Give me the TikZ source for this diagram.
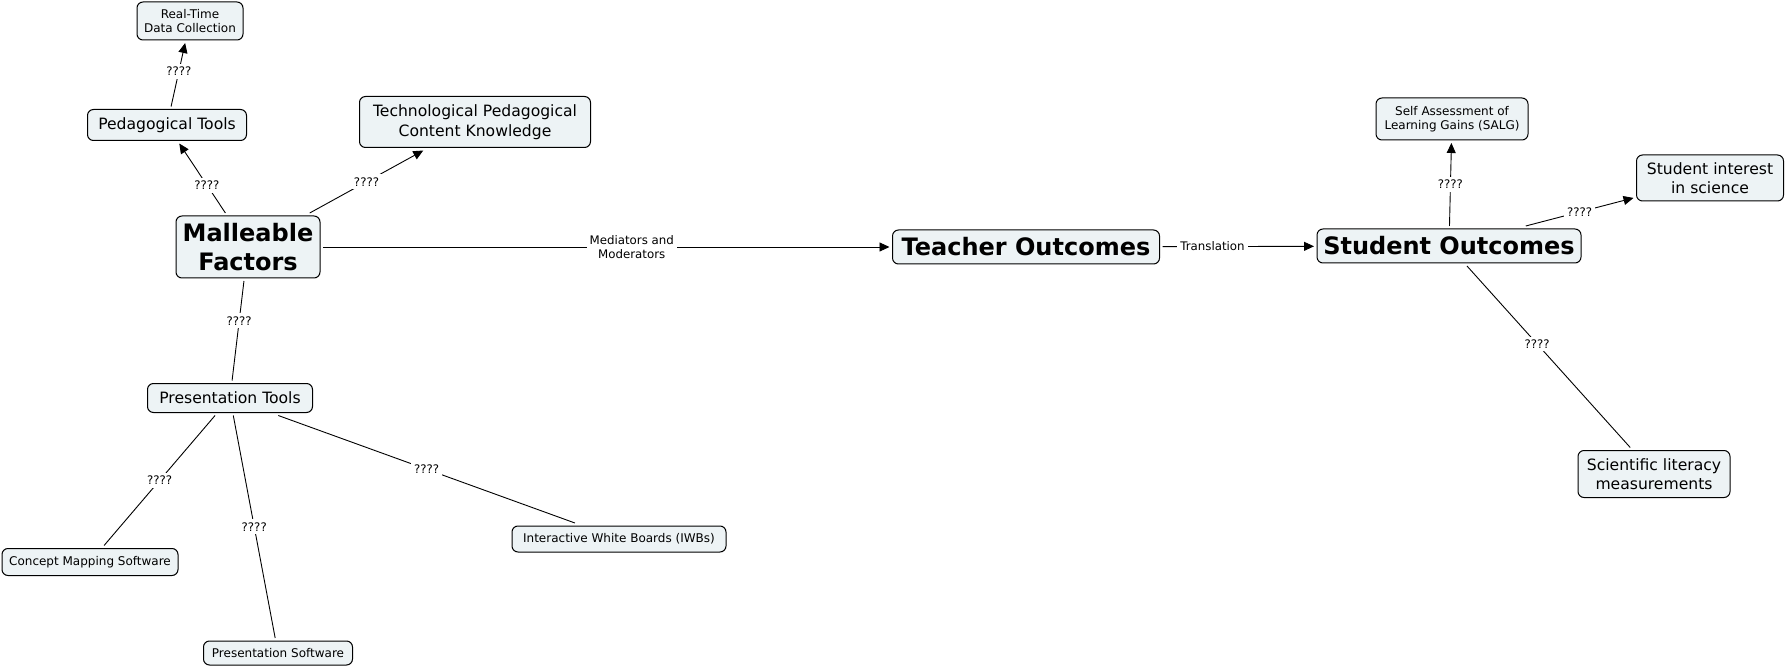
\documentclass[tikz,border=0pt]{standalone}
\usepackage{fontspec}
\setmainfont{DejaVu Sans}
\usetikzlibrary{arrows.meta}
\definecolor{cmapfill}{RGB}{237,243,245}

\begin{document}
\begin{tikzpicture}[
  x=1pt, y=-1pt,
  concept/.style={draw, fill=cmapfill, rounded corners=6pt, align=center, inner sep=0pt, outer sep=3pt, line width=1pt},
  bigbox/.style={concept, font=\fontsize{24}{29}\selectfont\bfseries},
  midbox/.style={concept, font=\fontsize{15.6}{19.5}\selectfont},
  smallbox/.style={concept, font=\fontsize{12}{14.5}\selectfont},
  linklabel/.style={fill=white, inner sep=3pt, font=\fontsize{11.8}{13.5}\selectfont},
  link/.style={line width=0.9pt},
  >={Triangle[length=10pt,width=9pt]}
]
\useasboundingbox (0,0) rectangle (1785,668);

\node[smallbox, minimum width=106pt, minimum height=38pt] (realtime) at (190,21) {Real-Time\\Data Collection};
\node[midbox, minimum width=159pt, minimum height=31pt] (pedtools) at (167,125) {Pedagogical Tools};
\node[midbox, minimum width=231pt, minimum height=51pt] (tpck) at (475,122) {Technological Pedagogical\\Content Knowledge};
\node[bigbox, minimum width=144pt, minimum height=62pt] (malleable) at (248,247) {Malleable\\Factors};
\node[midbox, minimum width=165pt, minimum height=29pt] (prestools) at (230,398) {Presentation Tools};
\node[smallbox, minimum width=176pt, minimum height=27pt] (conceptmap) at (90,562) {Concept Mapping Software};
\node[smallbox, minimum width=149pt, minimum height=24pt] (pressoft) at (278,653) {Presentation Software};
\node[smallbox, minimum width=214pt, minimum height=26pt] (iwb) at (619,539) {Interactive White Boards (IWBs)};
\node[bigbox, minimum width=267pt, minimum height=34pt] (teacher) at (1026,247) {Teacher Outcomes};
\node[bigbox, minimum width=264pt, minimum height=34pt] (student) at (1449,246) {Student Outcomes};
\node[smallbox, minimum width=152pt, minimum height=42pt] (salg) at (1452,119) {Self Assessment of\\Learning Gains (SALG)};
\node[midbox, minimum width=147pt, minimum height=46pt] (interest) at (1710,178) {Student interest\\in science};
\node[midbox, minimum width=152pt, minimum height=47pt] (literacy) at (1654,474) {Scientific literacy\\measurements};

\draw[link, ->] (pedtools) -- node[linklabel, pos=.55] {????} (realtime);
\draw[link, ->] (malleable) -- node[linklabel, pos=.4] {????} (pedtools);
\draw[link, ->] (malleable) -- node[linklabel] {????} (tpck);
\draw[link] (malleable) -- node[linklabel, pos=.4] {????} (prestools);
\draw[link] (prestools) -- node[linklabel] {????} (conceptmap);
\draw[link] (prestools) -- node[linklabel] {????} (pressoft);
\draw[link] (prestools) -- node[linklabel] {????} (iwb);
\draw[link, ->] (malleable) -- node[linklabel, pos=.545, align=center] {Mediators and\\Moderators} (teacher);
\draw[link, ->] (teacher) -- node[linklabel, pos=.33] {Translation} (student);
\draw[link, ->] (student) -- node[linklabel] {????} (salg);
\draw[link, ->] (student) -- node[linklabel] {????} (interest);
\draw[link] (student) -- node[linklabel, pos=.43] {????} (literacy);
\end{tikzpicture}
\end{document}
